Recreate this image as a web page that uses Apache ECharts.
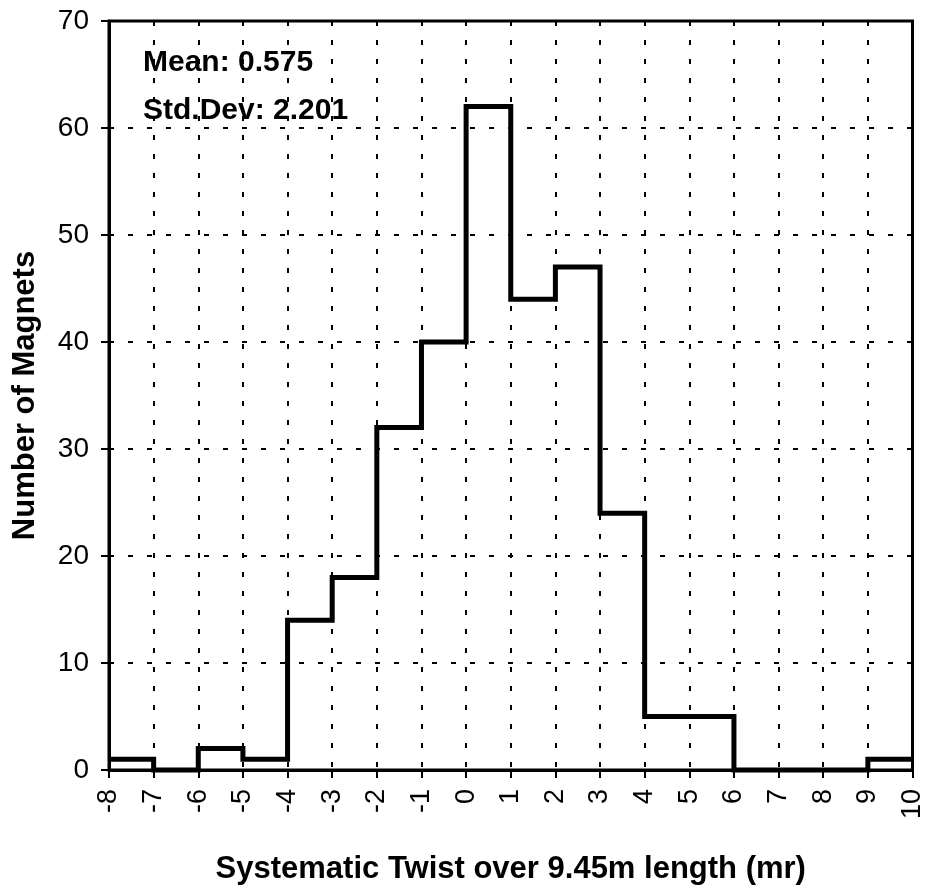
<!DOCTYPE html>
<html>
<head>
<meta charset="utf-8">
<script src="https://cdn.jsdelivr.net/npm/echarts@6/dist/echarts.min.js"></script>
<style>
  html, body { margin: 0; padding: 0; background: #fff; }
  #chart { width: 926px; height: 890px; }
</style>
</head>
<body>
<div id="chart"></div>
<script>
// histogram bins: left edge of each 1 mr bin, and count of magnets in it
const binStarts = [-8, -7, -6, -5, -4, -3, -2, -1, 0, 1, 2, 3, 4, 5, 6, 7, 8, 9]
const counts = [1, 0, 2, 1, 14, 18, 32, 40, 62, 44, 47, 24, 5, 5, 0, 0, 0, 1]
const lastEdge = 10
const statLines = ['Mean: 0.575', 'Std.Dev: 2.201']

const stepData = binStarts.map((x, i) => [x, counts[i]])
stepData.push([lastEdge, counts[counts.length - 1]])

const chart = echarts.init(document.getElementById('chart'), null, { renderer: 'canvas' })

const gridLine = { lineStyle: { color: '#000', width: 2, type: [5, 14] } }

chart.setOption({
  animation: false,
  backgroundColor: '#fff',
  textStyle: { fontFamily: '"Liberation Sans", Arial, sans-serif', color: '#000' },
  grid: {
    left: 109, right: 7, top: 21, bottom: 106,
    show: true, borderColor: '#000', borderWidth: 3, backgroundColor: 'transparent',
  },
  xAxis: {
    type: 'value',
    min: -8,
    max: lastEdge,
    interval: 1,
    name: 'Systematic Twist over 9.45m length (mr)',
    nameLocation: 'middle',
    nameGap: 84,
    nameTextStyle: { fontSize: 31, fontWeight: 'bold', color: '#000' },
    axisLine: { onZero: false, lineStyle: { color: '#000', width: 3 } },
    axisTick: { length: 8, lineStyle: { color: '#000', width: 2 } },
    axisLabel: { rotate: 90, fontSize: 27, color: '#000', margin: 19 },
    splitLine: { show: true, ...gridLine },
  },
  yAxis: {
    type: 'value',
    min: 0,
    max: 70,
    interval: 10,
    name: 'Number of Magnets',
    nameLocation: 'middle',
    nameGap: 68,
    nameTextStyle: { fontSize: 31, fontWeight: 'bold', color: '#000' },
    axisLine: { show: true, onZero: false, lineStyle: { color: '#000', width: 3 } },
    axisTick: { show: true, length: 8, lineStyle: { color: '#000', width: 2 } },
    axisLabel: { fontSize: 28, color: '#000', margin: 20 },
    splitLine: { show: true, ...gridLine },
  },
  graphic: statLines.map((t, i) => ({
    type: 'text',
    left: 143,
    top: 48 + i * 48,
    style: {
      text: t,
      font: 'bold 30px "Liberation Sans", Arial, sans-serif',
      fill: '#000',
    },
  })),
  series: [
    {
      type: 'line',
      step: 'end',
      data: stepData,
      showSymbol: false,
      clip: false,
      lineStyle: { color: '#000', width: 5, join: 'miter' },
      z: 5,
    },
  ],
})
</script>
</body>
</html>
